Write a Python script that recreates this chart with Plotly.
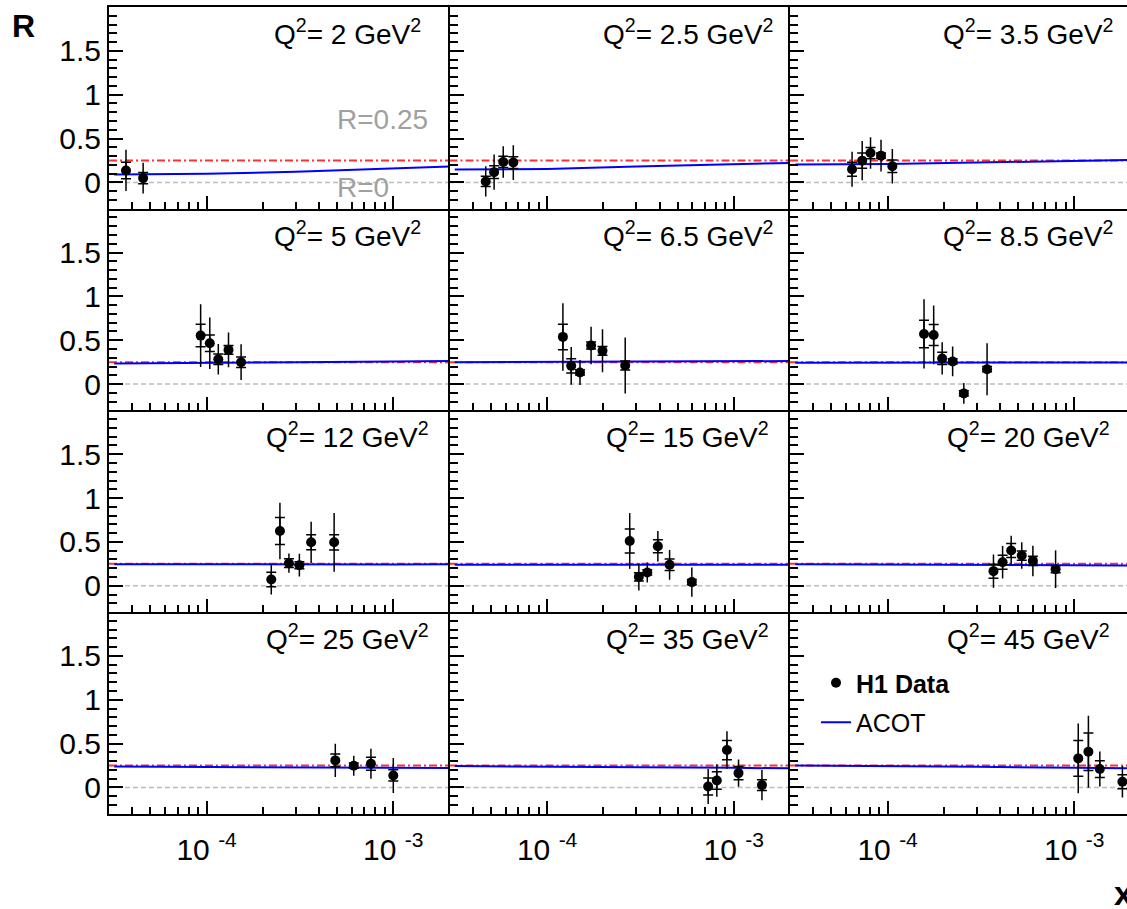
import math
import plotly.graph_objects as go

# ---------------- data ----------------
Q2_LABELS = ["2", "2.5", "3.5", "5", "6.5", "8.5", "12", "15", "20", "25", "35", "45"]

x_vals = [
    [3.70e-5, 4.57e-5],
    [4.69e-5, 5.20e-5, 5.82e-5, 6.59e-5],
    [6.45e-5, 7.31e-5, 8.10e-5, 9.22e-5, 1.06e-4],
    [9.29e-5, 1.04e-4, 1.155e-4, 1.31e-4, 1.53e-4],
    [1.215e-4, 1.346e-4, 1.50e-4, 1.72e-4, 1.98e-4, 2.62e-4],
    [1.567e-4, 1.765e-4, 1.96e-4, 2.23e-4, 2.56e-4, 3.41e-4],
    [2.22e-4, 2.47e-4, 2.76e-4, 3.14e-4, 3.63e-4, 4.82e-4],
    [2.77e-4, 3.10e-4, 3.44e-4, 3.92e-4, 4.53e-4, 5.96e-4],
    [3.69e-4, 4.13e-4, 4.59e-4, 5.23e-4, 6.00e-4, 7.94e-4],
    [4.89e-4, 6.14e-4, 7.59e-4, 1.00e-3],
    [7.29e-4, 8.11e-4, 9.19e-4, 1.06e-3, 1.415e-3],
    [1.05e-3, 1.19e-3, 1.37e-3, 1.81e-3],
]
r_vals = [
    [0.136, 0.049],
    [0.011, 0.117, 0.233, 0.226],
    [0.150, 0.248, 0.335, 0.305, 0.184],
    [0.553, 0.466, 0.284, 0.390, 0.250],
    [0.538, 0.208, 0.133, 0.440, 0.379, 0.212],
    [0.572, 0.560, 0.292, 0.258, -0.106, 0.170],
    [0.072, 0.625, 0.258, 0.235, 0.496, 0.496],
    [0.511, 0.102, 0.152, 0.451, 0.239, 0.042],
    [0.167, 0.269, 0.402, 0.345, 0.284, 0.189],
    [0.309, 0.248, 0.271, 0.137],
    [0.011, 0.080, 0.427, 0.164, 0.027],
    [0.332, 0.408, 0.210, 0.065],
]
stat_err = [
    [0.095, 0.065],
    [0.058, 0.072, 0.064, 0.067],
    [0.080, 0.087, 0.064, 0.030, 0.070],
    [0.128, 0.095, 0.060, 0.050, 0.060],
    [0.145, 0.082, 0.030, 0.040, 0.050, 0.050],
    [0.157, 0.120, 0.070, 0.030, 0.030, 0.030],
    [0.083, 0.155, 0.050, 0.040, 0.085, 0.087],
    [0.138, 0.048, 0.030, 0.073, 0.066, 0.030],
    [0.080, 0.080, 0.080, 0.053, 0.053, 0.040],
    [0.072, 0.030, 0.073, 0.064],
    [0.098, 0.100, 0.110, 0.076, 0.060],
    [0.205, 0.213, 0.095, 0.080],
]
tot_err = [
    [0.235, 0.175],
    [0.172, 0.200, 0.180, 0.198],
    [0.200, 0.225, 0.180, 0.180, 0.198],
    [0.358, 0.294, 0.174, 0.197, 0.204],
    [0.385, 0.216, 0.142, 0.215, 0.245, 0.318],
    [0.395, 0.335, 0.184, 0.170, 0.118, 0.296],
    [0.170, 0.322, 0.110, 0.130, 0.235, 0.335],
    [0.318, 0.155, 0.114, 0.174, 0.170, 0.166],
    [0.190, 0.185, 0.170, 0.152, 0.174, 0.215],
    [0.190, 0.115, 0.172, 0.200],
    [0.199, 0.185, 0.214, 0.156, 0.172],
    [0.397, 0.410, 0.200, 0.180],
]
acot_x = [3.2e-5, 1e-4, 3e-4, 1e-3, 2e-3]
acot_r = [
    [0.090, 0.098, 0.120, 0.154, 0.180],
    [0.147, 0.154, 0.180, 0.210, 0.222],
    [0.203, 0.210, 0.226, 0.244, 0.256],
    [0.236, 0.240, 0.248, 0.258, 0.264],
    [0.250, 0.252, 0.256, 0.260, 0.263],
    [0.243, 0.244, 0.245, 0.246, 0.247],
    [0.246, 0.243, 0.242, 0.244, 0.246],
    [0.240, 0.239, 0.238, 0.238, 0.239],
    [0.246, 0.243, 0.240, 0.235, 0.231],
    [0.240, 0.237, 0.232, 0.225, 0.221],
    [0.244, 0.240, 0.232, 0.224, 0.218],
    [0.252, 0.246, 0.236, 0.225, 0.218],
]
REF_LEVELS = [0.0, 0.25]
X_TICKS = [1e-4, 1e-3]
X_TICKTEXT = ["10 <sup>-4</sup>", "10 <sup>-3</sup>"]
X_MINOR = [4e-5, 5e-5, 6e-5, 7e-5, 8e-5, 9e-5,
           2e-4, 3e-4, 4e-4, 5e-4, 6e-4, 7e-4, 8e-4, 9e-4]
Y_TICKS = [0, 0.5, 1, 1.5]
Y_TICKTEXT = ["0", "0.5", "1", "1.5"]

# ---------------- layout geometry ----------------
W, H = 1127, 909
LEFT, COLW, TOP, ROWH = 109, 340.5, 7, 201.7
XMIN, XMAX = 3e-5, 2e-3
YMIN, YMAX = -0.3, 2.0
FONT = "Liberation Sans, Arial, Helvetica, sans-serif"
LX0 = math.log10(XMIN)
DEC = math.log10(XMAX) - LX0

fig = go.Figure()
annotations = []

for i in range(12):
    r, c = divmod(i, 3)
    n = "" if i == 0 else str(i + 1)
    xa, ya = "x" + n, "y" + n
    x0 = LEFT + c * COLW
    x1 = min(x0 + COLW, W)
    y0 = TOP + r * ROWH
    y1 = y0 + ROWH
    xr = [LX0, LX0 + (x1 - x0) / COLW * DEC]

    fig.layout["xaxis" + n] = dict(
        type="log", range=xr, domain=[x0 / W, x1 / W], anchor=ya,
        showline=True, linecolor="black", linewidth=2, mirror=(r == 0),
        ticks="inside", ticklen=13, tickwidth=1.5, tickcolor="black",
        tickmode="array", tickvals=X_TICKS, ticktext=X_TICKTEXT,
        showticklabels=(r == 3), showgrid=False, zeroline=False,
        ticklabelstandoff=8,
        tickfont=dict(size=30, color="black", family=FONT),
        minor=dict(tickmode="array", tickvals=X_MINOR, ticks="inside",
                   ticklen=7, tickwidth=1.5, tickcolor="black", showgrid=False),
    )
    fig.layout["yaxis" + n] = dict(
        range=[YMIN, YMAX], domain=[1 - y1 / H, 1 - y0 / H], anchor=xa,
        showline=True, linecolor="black", linewidth=2, mirror=False,
        ticks="inside", ticklen=14, tickwidth=1.5, tickcolor="black",
        tickmode="array", tickvals=Y_TICKS, ticktext=Y_TICKTEXT,
        showticklabels=(c == 0), showgrid=False, zeroline=False,
        tickfont=dict(size=30, color="black", family=FONT),
        minor=dict(dtick=0.1, tick0=0, ticks="inside", ticklen=8,
                   tickwidth=1.5, tickcolor="black", showgrid=False),
    )

    # reference lines R=0 (grey dashed) and R=0.25 (red dash-dot)
    fig.add_trace(go.Scatter(
        x=[XMIN, XMAX], y=[REF_LEVELS[0]] * 2, mode="lines", xaxis=xa, yaxis=ya,
        line=dict(color="#bdbdbd", width=1.5, dash="5px,3px"),
        showlegend=False, hoverinfo="skip"))
    fig.add_trace(go.Scatter(
        x=[XMIN, XMAX], y=[REF_LEVELS[1]] * 2, mode="lines", xaxis=xa, yaxis=ya,
        line=dict(color="#ff3030", width=2, dash="8px,3px,2px,3px"),
        showlegend=False, hoverinfo="skip"))
    # ACOT curve
    fig.add_trace(go.Scatter(
        x=acot_x, y=acot_r[i], mode="lines", xaxis=xa, yaxis=ya,
        line=dict(color="#0000ff", width=2), name="ACOT",
        legendgroup="b", legendrank=2, showlegend=(i == 11)))
    # data: total errors (plain line) and stat errors (cross-bars)
    fig.add_trace(go.Scatter(
        x=x_vals[i], y=r_vals[i], mode="markers", xaxis=xa, yaxis=ya,
        marker=dict(color="rgba(0,0,0,0)", size=2),
        error_y=dict(type="data", array=stat_err[i], color="black",
                     thickness=1.5, width=5),
        showlegend=False, hoverinfo="skip"))
    fig.add_trace(go.Scatter(
        x=x_vals[i], y=r_vals[i], mode="markers", xaxis=xa, yaxis=ya,
        marker=dict(color="black", size=10, symbol="circle"),
        error_y=dict(type="data", array=tot_err[i], color="black",
                     thickness=1.5, width=0),
        name="<b>H1 Data</b>", legendgroup="a", legendrank=1,
        showlegend=(i == 11)))

    # Q^2 label
    annotations.append(dict(
        x=(x0 + 238) / W, y=1 - (y0 + 25) / H, xref="paper", yref="paper",
        text="Q<sup>2</sup>= " + Q2_LABELS[i] + " GeV<sup>2</sup>",
        showarrow=False, xanchor="center", yanchor="middle",
        font=dict(size=28, color="black", family=FONT)))

annotations += [
    dict(x=335 / W, y=1 - 119 / H, xref="paper", yref="paper", text="R=0.25",
         showarrow=False, xanchor="left", yanchor="middle",
         font=dict(size=28, color="#a0a0a0", family=FONT)),
    dict(x=335 / W, y=1 - 187 / H, xref="paper", yref="paper", text="R=0",
         showarrow=False, xanchor="left", yanchor="middle",
         font=dict(size=28, color="#a0a0a0", family=FONT)),
    dict(x=10 / W, y=1 - 26 / H, xref="paper", yref="paper", text="<b>R</b>",
         showarrow=False, xanchor="left", yanchor="middle",
         font=dict(size=32, color="black", family=FONT)),
    dict(x=1112 / W, y=1 - 893 / H, xref="paper", yref="paper", text="<b>x</b>",
         showarrow=False, xanchor="left", yanchor="middle",
         font=dict(size=34, color="black", family=FONT)),
]

fig.update_layout(
    width=W, height=H, margin=dict(l=0, r=0, t=0, b=0),
    paper_bgcolor="white", plot_bgcolor="white",
    annotations=annotations,
    font=dict(family=FONT, color="black"),
    legend=dict(x=816 / W, y=1 - 660 / H, xanchor="left", yanchor="top",
                bgcolor="rgba(0,0,0,0)", borderwidth=0,
                font=dict(size=25, color="black", family=FONT),
                traceorder="grouped", tracegroupgap=4),
)

fig.write_html("out.html", config={"displayModeBar": False},
               post_script="document.body.style.margin='0px';")
